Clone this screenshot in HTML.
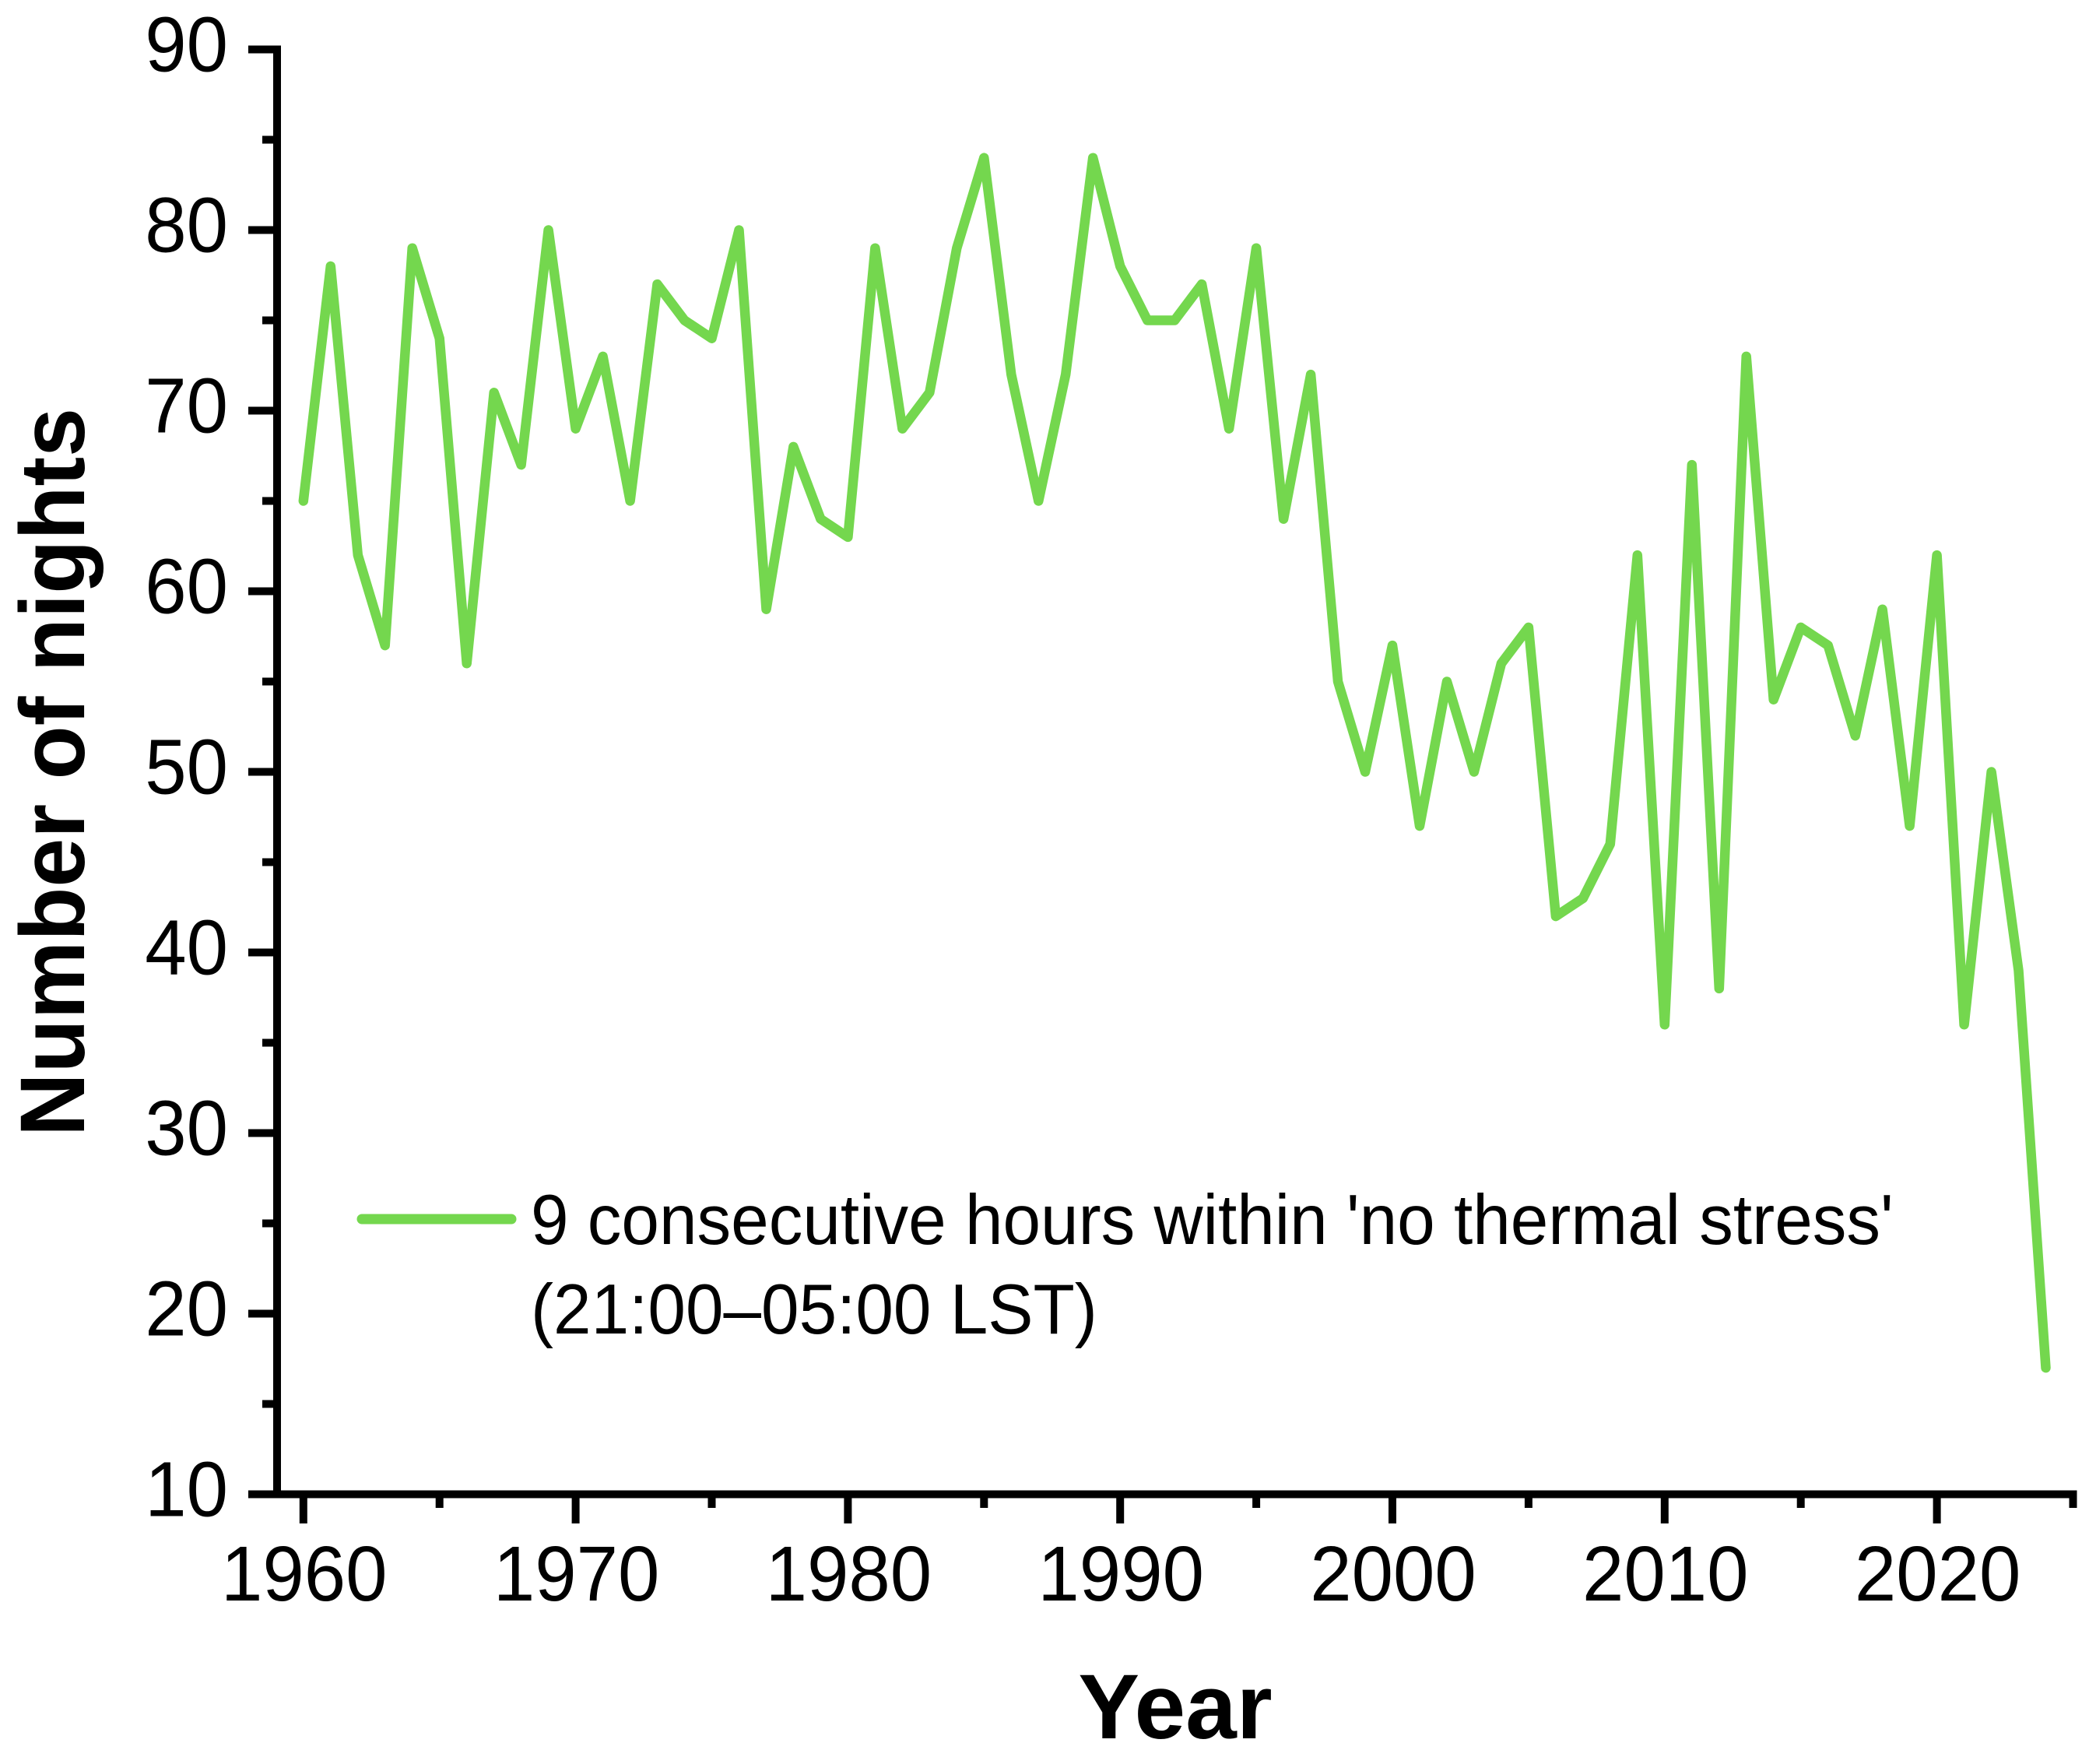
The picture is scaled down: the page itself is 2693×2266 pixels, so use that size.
<!DOCTYPE html>
<html>
<head>
<meta charset="utf-8">
<title>Number of nights per year</title>
<style>
html,body{margin:0;padding:0;background:#fff;}
svg{display:block;}
text{font-family:"Liberation Sans",Arial,sans-serif;fill:#000;}
</style>
</head>
<body>
<svg id="chart" xmlns="http://www.w3.org/2000/svg" width="2693" height="2266" viewBox="0 0 2693 2266">
<rect x="0" y="0" width="2693" height="2266" fill="#ffffff"/>
<g id="series"></g>
<g id="axes"></g>
<text transform="translate(108,992) rotate(-90)" text-anchor="middle" font-size="118" font-weight="700" textLength="936" lengthAdjust="spacingAndGlyphs">Number of nights</text>
<text x="1510" y="2233" text-anchor="middle" font-size="118" font-weight="700">Year</text>
<g>
<line x1="465" y1="1566" x2="657" y2="1566" stroke="#74d74e" stroke-width="13" stroke-linecap="round"/>
<text x="682" y="1598" font-size="87.3" transform="translate(682,1598) scale(1,1.04) translate(-682,-1598)">9 consecutive hours within 'no thermal stress'</text>
<text x="682" y="1713" font-size="87.3" transform="translate(682,1713) scale(1,1.04) translate(-682,-1713)">(21:00–05:00 LST)</text>
</g>
</svg>
<script>
const years = [1960,1961,1962,1963,1964,1965,1966,1967,1968,1969,1970,1971,1972,1973,1974,1975,1976,1977,1978,1979,1980,1981,1982,1983,1984,1985,1986,1987,1988,1989,1990,1991,1992,1993,1994,1995,1996,1997,1998,1999,2000,2001,2002,2003,2004,2005,2006,2007,2008,2009,2010,2011,2012,2013,2014,2015,2016,2017,2018,2019,2020,2021,2022,2023,2024];
const nights = [65,78,62,57,79,74,56,71,67,80,69,73,65,77,75,74,80,59,68,64,63,79,69,71,79,84,72,65,72,84,78,75,75,77,69,79,64,72,55,50,57,47,55,50,56,58,42,43,46,62,36,67,38,73,54,58,57,52,59,47,62,36,50,39,17];
const xMajorTicks = [1960,1970,1980,1990,2000,2010,2020];
const xMinorTicks = [1965,1975,1985,1995,2005,2015,2025];
const yMajorTicks = [10,20,30,40,50,60,70,80,90];
const yMinorTicks = [15,25,35,45,55,65,75,85];

const NS = 'http://www.w3.org/2000/svg';
const X0 = 389.8, X_PER_YEAR = 34.98, Y_BASE = 1919.5, Y_PER_UNIT = 23.2;
function xScale(year){ return X0 + (year - 1960) * X_PER_YEAR; }
function yScale(v){ return Y_BASE - (v - 10) * Y_PER_UNIT; }

const axes = document.getElementById('axes');
const seriesLayer = document.getElementById('series');

function makeLine(x1, y1, x2, y2, width){
  const l = document.createElementNS(NS, 'line');
  l.setAttribute('x1', x1);
  l.setAttribute('y1', y1);
  l.setAttribute('x2', x2);
  l.setAttribute('y2', y2);
  l.setAttribute('stroke', '#000');
  l.setAttribute('stroke-width', width);
  return l;
}
function makeText(x, y, str, anchor){
  const t = document.createElementNS(NS, 'text');
  t.setAttribute('x', x);
  t.setAttribute('y', y);
  t.setAttribute('text-anchor', anchor);
  t.setAttribute('font-size', '96');
  t.setAttribute('transform', 'translate(' + x + ',' + y + ') scale(1,1.04) translate(' + (-x) + ',' + (-y) + ')');
  t.textContent = str;
  return t;
}

const yAxisLine = makeLine(356, yScale(90) - 5, 356, Y_BASE + 5, 10);


axes.appendChild(yAxisLine);

const xAxisLine = makeLine(319, Y_BASE, xScale(2025) + 5, Y_BASE, 10);


axes.appendChild(xAxisLine);

yMajorTicks.forEach(function(v){
  const tick = makeLine(319, yScale(v), 356, yScale(v), 10);
  
  
  axes.appendChild(tick);
  const label = makeText(293, yScale(v) + 28, String(v), 'end');
  
  
  axes.appendChild(label);
});
yMinorTicks.forEach(function(v){
  const tick = makeLine(337, yScale(v), 356, yScale(v), 10);
  
  
  axes.appendChild(tick);
});
xMajorTicks.forEach(function(y){
  const tick = makeLine(xScale(y), Y_BASE, xScale(y), 1957, 10);
  
  
  axes.appendChild(tick);
  const label = makeText(xScale(y) + 1, 2056, String(y), 'middle');
  
  
  axes.appendChild(label);
});
xMinorTicks.forEach(function(y){
  const tick = makeLine(xScale(y), Y_BASE, xScale(y), 1937, 10);
  
  
  axes.appendChild(tick);
});

const seriesLine = document.createElementNS(NS, 'polyline');
seriesLine.setAttribute('points', years.map(function(y, i){ return xScale(y).toFixed(1) + ',' + yScale(nights[i]).toFixed(1); }).join(' '));
seriesLine.setAttribute('fill', 'none');
seriesLine.setAttribute('stroke', '#74d74e');
seriesLine.setAttribute('stroke-width', '12.5');
seriesLine.setAttribute('stroke-linejoin', 'round');
seriesLine.setAttribute('stroke-linecap', 'round');


seriesLayer.appendChild(seriesLine);
</script>
</body>
</html>
